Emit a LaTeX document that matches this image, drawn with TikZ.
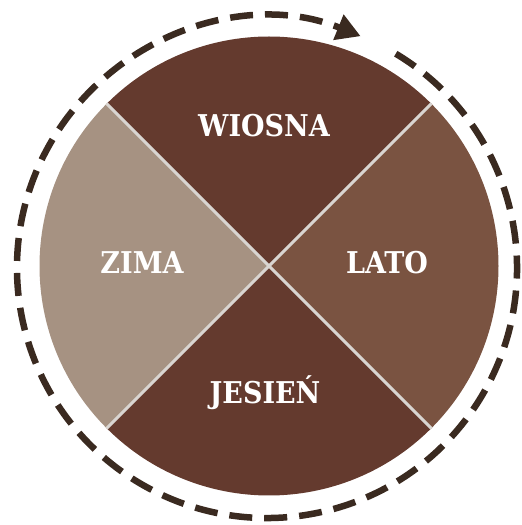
\documentclass[tikz,border=0pt]{standalone}
\usepackage{fontspec}
\setmainfont{DejaVu Serif}
\newfontfamily\seasonfont{DejaVu Serif Condensed Bold}
\usetikzlibrary{arrows.meta}
\definecolor{darkbrown}{HTML}{643A2E}
\definecolor{midbrown}{HTML}{7A5341}
\definecolor{tanbrown}{HTML}{A69282}
\definecolor{sepgray}{HTML}{D9D5D1}
\definecolor{dashbrown}{HTML}{3A2A20}
\tikzset{
  seasonlabel/.style={text=white, font=\seasonfont\fontsize{30}{32}\selectfont, anchor=base, inner sep=0pt},
  sepline/.style={draw=sepgray, line width=3pt},
  cycle/.style={draw=dashbrown, line width=6.5pt, dash pattern=on 23pt off 12pt, -{Triangle[length=24pt,width=26pt]}}
}
\begin{document}
\begin{tikzpicture}[x=1pt,y=1pt]
\useasboundingbox (0,0) rectangle (522,525);
\coordinate (c) at (269,259);
\coordinate (d) at (267,257);
\fill[darkbrown] (c) -- ++(45:229.5) arc[start angle=45, end angle=135, radius=229.5] -- cycle;
\fill[tanbrown] (c) -- ++(135:229.5) arc[start angle=135, end angle=225, radius=229.5] -- cycle;
\fill[darkbrown] (c) -- ++(225:229.5) arc[start angle=225, end angle=315, radius=229.5] -- cycle;
\fill[midbrown] (c) -- ++(-45:229.5) arc[start angle=-45, end angle=45, radius=229.5] -- cycle;
\path (c) ++(45:229.5) coordinate (ne) (c) ++(135:229.5) coordinate (nw)
      (c) ++(225:229.5) coordinate (sw) (c) ++(315:229.5) coordinate (se);
\draw[sepline] (nw) -- (se);
\draw[sepline] (ne) -- (sw);
\node[seasonlabel] (wiosna) at (264,388) {WIOSNA};
\node[seasonlabel] (zima) at (142,251) {ZIMA};
\node[seasonlabel] (lato) at (387,251) {LATO};
\node[seasonlabel] (jesien) at (265,121) {JESIEŃ};
\path (d) ++(59:250) coordinate (arcstart);
\draw[cycle] (arcstart) arc[start angle=59, end angle=-292, radius=250];
\end{tikzpicture}
\end{document}
